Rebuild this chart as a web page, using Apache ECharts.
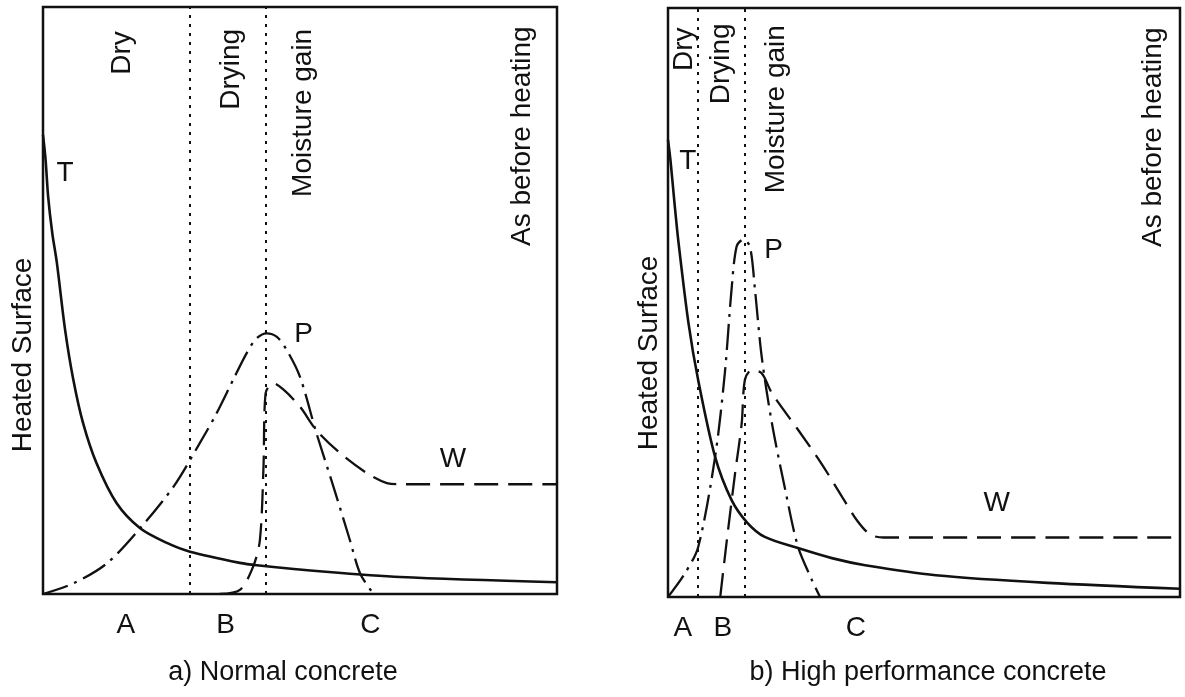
<!DOCTYPE html>
<html>
<head>
<meta charset="utf-8">
<script src="https://cdn.jsdelivr.net/npm/echarts@6/dist/echarts.min.js"></script>
<style>
html, body { margin: 0; padding: 0; background: #fff; }
#main { width: 1185px; height: 697px; }
</style>
</head>
<body>
<div id="main"></div>
<script>
// a) normal concrete, x and y in % of the panel
var tNormal = [[0, 78.2], [0.5, 74.0], [1.0, 67.7], [1.8, 61.5], [2.7, 56.4], [4.3, 45.0], [5.9, 36.5], [7.8, 29.1],
  [10.4, 22.3], [14.3, 15.5], [18.9, 11.2], [24.1, 8.7], [28.6, 7.2], [38.3, 5.3], [41.6, 4.9], [55, 3.8],
  [69.5, 2.9], [100, 2.0]];
var pNormal = [[0, 0], [5.9, 1.8], [12.4, 5.2], [18.9, 11.2], [25.4, 18.3], [30.5, 25.7], [33.6, 30.5],
  [37.0, 36.5], [39.6, 41.0], [41.5, 43.5], [43.5, 44.4], [45.5, 43.8], [47.4, 41.6], [50.0, 37.0], [53.2, 27.4],
  [56.5, 18.3], [59.7, 9.2], [61.7, 3.5], [64.3, 0]];
var wNormal = [[34.4, 0], [38.3, 0.7], [40.9, 4.7], [42.2, 9.2], [42.9, 21.7], [43.3, 34.2], [44.8, 35.9],
  [46.8, 34.8], [50.0, 31.9], [53.2, 27.9], [57.8, 24.0], [63.0, 20.6], [66.9, 18.9], [69.5, 18.7], [100, 18.7]];
var zonesNormal = [28.6, 43.3];
var ticksNormal = [16.1, 35.5, 63.7];

// b) high performance concrete
var tHigh = [[0, 77.6], [0.5, 74.0], [1.2, 67.5], [2.0, 60.6], [4.0, 46.5], [5.9, 36.8], [9.2, 23.8], [12.4, 16.5],
  [15.5, 12.6], [18.9, 10.2], [25.4, 8.3], [32.0, 6.6], [38.5, 5.4], [52.3, 3.7], [74.1, 2.4], [100, 1.4]];
var pHigh = [[0, 0], [3.3, 4.0], [5.9, 8.5], [9.2, 23.8], [11.1, 38.0], [12.4, 52.1], [13.4, 59.5],
  [14.7, 60.7], [16.0, 59.5], [17.0, 52.1], [18.3, 40.8], [20.3, 29.5], [22.9, 18.2], [25.4, 8.5],
  [28.1, 2.9], [29.7, 0]];
var wHigh = [[10.2, 0], [11.5, 9.7], [13.1, 21.0], [14.4, 29.5], [15.0, 36.8], [16.3, 38.5], [18.3, 38.0],
  [20.3, 34.6], [25.4, 28.4], [30.0, 22.6], [34.0, 17.0], [37.0, 12.9], [39.5, 10.6], [42.1, 10.1], [100, 10.1]];
var zonesHigh = [5.9, 14.9];
var ticksHigh = [2.9, 10.7, 36.7];

var tickNames = ['A', 'B', 'C'];
var zoneNames = ['Dry', 'Drying', 'Moisture gain', 'As before heating'];
var curveNames = ['T', 'P', 'W'];

// label anchors (data coords): zone labels hang from their top end
var zoneAnchorNormal = [[15.6, 95.8], [36.7, 96.2], [50.8, 96.2], [93.3, 96.6]];
var zoneAnchorHigh = [[3.3, 96.6], [10.6, 97.3], [21.3, 97.0], [94.9, 96.6]];
var curveAnchorNormal = [[2.7, 71.6], [49.0, 44.2], [77.3, 22.9]];
var curveAnchorHigh = [[2.3, 73.9], [18.9, 58.7], [61.7, 15.9]];

var FONT = 'Liberation Sans, Arial, Helvetica, sans-serif';
var INK = '#111';

var myChart = echarts.init(document.getElementById('main'), null, { renderer: 'canvas' });

function axisX(idx, ticks) {
  return {
    type: 'value', gridIndex: idx, min: 0, max: 100,
    axisLine: { show: false }, axisTick: { show: false }, splitLine: { show: false },
    axisLabel: {
      show: true, customValues: ticks, margin: 17,
      fontFamily: FONT, fontSize: 28, color: INK,
      formatter: function (v) {
        var i = ticks.indexOf(v);
        return i >= 0 ? tickNames[i] : '';
      }
    }
  };
}
function axisY(idx) {
  return {
    type: 'value', gridIndex: idx, min: 0, max: 100,
    axisLine: { show: false }, axisTick: { show: false }, splitLine: { show: false }, axisLabel: { show: false }
  };
}
function curve(idx, data, dash, width, zones) {
  var s = {
    type: 'line', xAxisIndex: idx, yAxisIndex: idx, data: data,
    showSymbol: false, smooth: 0.3, silent: true,
    lineStyle: { color: INK, width: width, type: dash }
  };
  if (zones) {
    s.markLine = {
      symbol: 'none', silent: true, label: { show: false },
      lineStyle: { color: INK, width: 2, type: [3, 6] },
      data: zones.map(function (z) { return { xAxis: z }; })
    };
  }
  return s;
}
function labels(idx, anchors, names, rotated) {
  return {
    type: 'scatter', xAxisIndex: idx, yAxisIndex: idx, symbolSize: 1, silent: true,
    itemStyle: { color: INK, opacity: 0 },
    data: anchors.map(function (a, i) { return { value: a, name: names[i] }; }),
    label: {
      show: true, position: [0, 0], formatter: '{b}', opacity: 1,
      fontFamily: FONT, fontSize: 28, color: INK, textBorderWidth: 0,
      rotate: rotated ? 90 : 0,
      align: rotated ? 'right' : 'left', verticalAlign: 'middle'
    }
  };
}

var option = {
  backgroundColor: '#fff',
  animation: false,
  grid: [
    { left: 43, top: 7, width: 514, height: 587, show: true, borderColor: INK, borderWidth: 2.5, outerBoundsMode: 'none' },
    { left: 668, top: 8, width: 512, height: 589, show: true, borderColor: INK, borderWidth: 2.5, outerBoundsMode: 'none' }
  ],
  xAxis: [axisX(0, ticksNormal), axisX(1, ticksHigh)],
  yAxis: [axisY(0), axisY(1)],
  series: [
    curve(0, tNormal, 'solid', 2.6, zonesNormal),
    curve(0, pNormal, [26, 7, 3, 7], 2.3),
    curve(0, wNormal, [24, 10], 2.3),
    labels(0, zoneAnchorNormal, zoneNames, true),
    labels(0, curveAnchorNormal, curveNames, false),
    curve(1, tHigh, 'solid', 2.6, zonesHigh),
    curve(1, pHigh, [26, 7, 3, 7], 2.3),
    curve(1, wHigh, [24, 10], 2.3),
    labels(1, zoneAnchorHigh, zoneNames, true),
    labels(1, curveAnchorHigh, curveNames, false)
  ],
  graphic: [
    { type: 'text', x: 23, y: 355, rotation: Math.PI / 2, silent: true,
      style: { text: 'Heated Surface', font: '28px ' + FONT, fill: INK, textAlign: 'center', textVerticalAlign: 'middle' } },
    { type: 'text', x: 649, y: 353, rotation: Math.PI / 2, silent: true,
      style: { text: 'Heated Surface', font: '28px ' + FONT, fill: INK, textAlign: 'center', textVerticalAlign: 'middle' } },
    { type: 'text', x: 283, y: 673, silent: true,
      style: { text: 'a) Normal concrete', font: '27px ' + FONT, fill: INK, textAlign: 'center', textVerticalAlign: 'middle' } },
    { type: 'text', x: 928, y: 673, silent: true,
      style: { text: 'b) High performance concrete', font: '27px ' + FONT, fill: INK, textAlign: 'center', textVerticalAlign: 'middle' } }
  ]
};

if (option && typeof option === 'object') {
  myChart.setOption(option, true);
}
</script>
</body>
</html>
